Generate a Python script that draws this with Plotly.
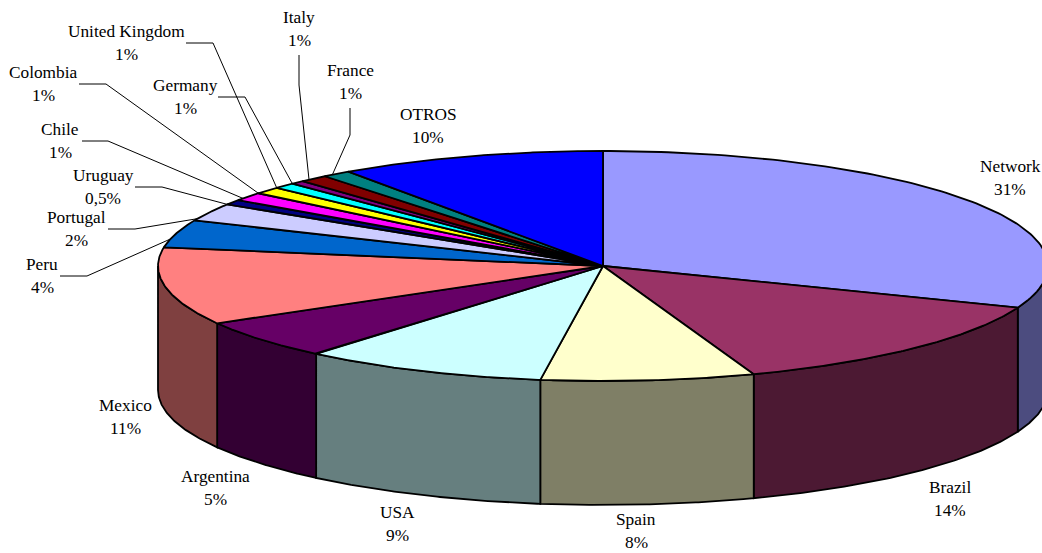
import numpy as np
import plotly.graph_objects as go

# Data
categories = ["Network", "Brazil", "Spain", "USA", "Argentina", "Mexico", "Peru", "Portugal",
              "Uruguay", "Chile", "Colombia", "United Kingdom", "Germany", "Italy", "France", "OTROS"]
shares = [30.9, 13.6, 7.75, 8.9, 5.55, 10.9, 3.9, 2.5, 0.7, 1.2, 1.0, 0.8, 0.5, 1.05, 1.05, 9.7]
value_labels = ["31%", "14%", "8%", "9%", "5%", "11%", "4%", "2%",
                "0,5%", "1%", "1%", "1%", "1%", "1%", "1%", "10%"]

# Styles
top_colors = ["#9999FF", "#993366", "#FFFFCC", "#CCFFFF", "#660066", "#FF8080", "#0066CC", "#CCCCFF",
              "#000080", "#FF00FF", "#FFFF00", "#00FFFF", "#800080", "#800000", "#008080", "#0000FF"]
side_colors = ["#4C4C7F", "#4C1933", "#7F7F66", "#667F7F", "#330033", "#7F4040"]

# Layout (pixels)
W, H = 1042, 553
CX, CY, RX, RY, DEPTH = 603, 266, 445, 115, 124
FONT = "Liberation Serif, Times New Roman, serif"
FONT_SIZE = 17.3
label_pos = {
    "Network": (1010, 166), "Brazil": (950, 487), "Spain": (636, 519), "USA": (397, 512),
    "Argentina": (215, 476), "Mexico": (125, 405), "Peru": (42, 264), "Portugal": (76, 217),
    "Uruguay": (103, 175), "Chile": (60, 129), "Colombia": (43, 72), "United Kingdom": (126, 31),
    "Germany": (185, 85), "Italy": (299, 17), "France": (350, 70), "OTROS": (428, 114),
}
LINE_GAP = 23
# leader: first point, elbow, fraction of the slice where it meets the rim
leaders = {
    "United Kingdom": ((186, 43), (213, 43), 0.0),
    "Colombia": ((79, 84), (106, 84), 0.0),
    "Germany": ((218, 97), (245, 97), 0.0),
    "Chile": ((82, 141), (108, 141), 0.25),
    "Italy": ((299, 55), (299, 85), 0.3),
    "France": ((350, 108), (350, 135), 0.33),
    "Uruguay": ((135, 187), (162, 187), 0.0),
    "Portugal": ((108, 229), (135, 229), 0.1),
    "Peru": ((60, 276), (87, 276), 0.3),
}


def rim(theta, drop=0.0):
    return CX + RX * np.sin(theta), CY - RY * np.cos(theta) + drop


edges = np.cumsum([0] + shares) / sum(shares) * 2 * np.pi
fig = go.Figure()


def poly(xs, ys, color):
    fig.add_trace(go.Scatter(x=list(xs), y=list(ys), mode="lines", fill="toself", fillcolor=color,
                             line=dict(color="black", width=1.8), hoverinfo="skip", showlegend=False))


# side walls (only the front half is visible)
for i, side in enumerate(side_colors):
    a = max(edges[i], np.pi / 2)
    b = min(edges[i + 1], 3 * np.pi / 2)
    t = np.linspace(a, b, 80)
    x1, y1 = rim(t)
    x2, y2 = rim(t[::-1], DEPTH)
    poly(np.r_[x1, x2, x1[0]], np.r_[y1, y2, y1[0]], side)

# top faces
for i, col in enumerate(top_colors):
    t = np.linspace(edges[i], edges[i + 1], 120)
    x, y = rim(t)
    poly(np.r_[CX, x, CX], np.r_[CY, y, CY], col)

# leader lines
for name, (p0, p1, frac) in leaders.items():
    i = categories.index(name)
    ex, ey = rim(edges[i] + frac * (edges[i + 1] - edges[i]))
    fig.add_trace(go.Scatter(x=[p0[0], p1[0], ex], y=[p0[1], p1[1], ey], mode="lines",
                             line=dict(color="black", width=1), hoverinfo="skip", showlegend=False))

# labels
annotations = []
for name, val in zip(categories, value_labels):
    lx, ly = label_pos[name]
    for txt, yy in ((name, ly), (val, ly + LINE_GAP)):
        annotations.append(dict(x=lx, y=yy, xref="x", yref="y", text=txt, showarrow=False,
                                xanchor="center", yanchor="middle",
                                font=dict(family=FONT, size=FONT_SIZE, color="black")))

fig.update_layout(
    width=W, height=H, margin=dict(l=0, r=0, t=0, b=0), showlegend=False,
    paper_bgcolor="white", plot_bgcolor="white", annotations=annotations,
    xaxis=dict(range=[0, W], visible=False, fixedrange=True),
    yaxis=dict(range=[H, 0], visible=False, fixedrange=True),
)
fig.write_html("out.html", config={"displayModeBar": False},
               post_script="document.body.style.margin='0';document.documentElement.style.overflow='hidden';")
